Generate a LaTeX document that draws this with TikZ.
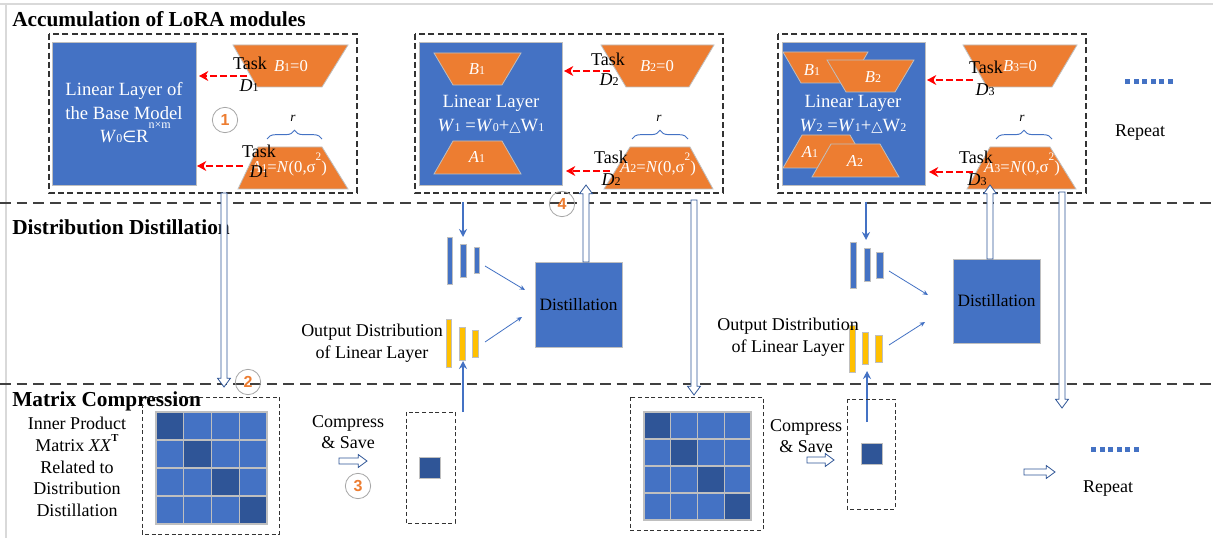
\documentclass[tikz,border=0pt]{standalone}
\usepackage{fontspec}
\setmainfont{Liberation Serif}
\newfontfamily\symfont{DejaVu Sans}
\newfontfamily\numfont{Liberation Sans}
\usetikzlibrary{calc,arrows.meta,decorations.pathreplacing}

\definecolor{lblue}{HTML}{4472C4}
\definecolor{dblue}{HTML}{2F5597}
\definecolor{orng}{HTML}{ED7D31}
\definecolor{yel}{HTML}{FFC000}
\definecolor{edgegray}{HTML}{BFBFBF}
\definecolor{sepgray}{HTML}{404040}
\definecolor{framegray}{HTML}{D9D9D9}
\definecolor{circgray}{HTML}{A6A6A6}

% small index digits set on the baseline, and raised exponents
\newcommand\sub[1]{{\fontsize{9}{9}\selectfont #1}}
\newcommand\sqr[1]{\smash{\raisebox{0.72em}{\fontsize{8.5}{8.5}\selectfont #1}}}

% outlined block arrow between two named coordinates
\newcommand\blockarrow[2]{%
  \coordinate (ba-h) at ($(#2)!6.5pt!(#1)$);
  \draw[hollow] ($(#1)!2.3pt!90:(#2)$) -- ($(ba-h)!2.3pt!90:(#2)$)
    -- ($(ba-h)!4.8pt!90:(#2)$) -- (#2) -- ($(ba-h)!4.8pt!-90:(#2)$)
    -- ($(ba-h)!2.3pt!-90:(#2)$) -- ($(#1)!2.3pt!-90:(#2)$) -- cycle;}

\begin{document}
\begin{tikzpicture}[x=0.75pt,y=-0.75pt,
  sepline/.style={draw=sepgray, line width=1.5pt, dash pattern=on 8pt off 4.5pt},
  panel/.style={draw=black!80, line width=0.8pt, dash pattern=on 4.5pt off 2.5pt},
  finebox/.style={draw=black!80, line width=0.7pt, dash pattern=on 3pt off 2pt},
  bluebox/.style={fill=lblue, draw=edgegray, line width=0.6pt},
  trap/.style={fill=orng, draw=edgegray, line width=0.6pt},
  bar/.style={draw=edgegray, line width=0.5pt},
  title/.style={font=\bfseries\fontsize{16}{18}\selectfont, inner sep=0pt},
  wtext/.style={text=white, font=\fontsize{14}{17.6}\selectfont, align=center, inner sep=0pt},
  wsmall/.style={text=white, font=\fontsize{12.5}{14}\selectfont, inner sep=0pt},
  ltext/.style={font=\fontsize{13.5}{16.3}\selectfont, align=center, inner sep=0pt},
  rtext/.style={font=\itshape\fontsize{10}{10}\selectfont, inner sep=0pt},
  redarrow/.style={draw=red, line width=2pt, dash pattern=on 5pt off 2.5pt, -{Stealth[length=7pt,width=7.5pt]}},
  bluearrow/.style={draw=lblue, line width=1.5pt, -{Stealth[length=6pt,width=6pt]}},
  thinarrow/.style={draw=lblue, line width=0.6pt, -{Stealth[length=4pt,width=3.5pt]}},
  hollow/.style={draw=dblue, fill=white, line width=0.6pt, line join=miter},
  bracket/.style={draw=lblue, line width=0.7pt, decorate, decoration={brace, amplitude=6.5pt}},
  numcirc/.style={circle, draw=circgray, line width=0.6pt, minimum size=19pt, inner sep=0pt,
    text=orng, font=\numfont\bfseries\fontsize{12}{12}\selectfont},
  dots/.style={fill=lblue}]

\useasboundingbox (0,0) rectangle (1213,538);
\fill[white] (0,0) rectangle (1213,538);

% outer frame and section separators
\draw[framegray, line width=0.8pt] (0,4) -- (1213,4);
\draw[framegray, line width=0.8pt] (6,4) -- (6,538);
\draw[sepline] (0,203.5) -- (1213,203.5);
\draw[sepline] (0,383.5) -- (1213,383.5);

\node[title, anchor=base west] (tacc) at (12,27) {Accumulation of LoRA modules};
\node[title, anchor=base west] (tdist) at (12,235) {Distribution Distillation};
\node[title, anchor=base west] (tmat) at (12,406) {Matrix Compression};

% ---------------- first LoRA stage ----------------
\draw[panel] (49,34) rectangle (357,193);
\draw[bluebox] (52,42) rectangle (196,185);
\node[wtext] (p1lin) at (124,113) {Linear Layer of\\the Base Model\\\textit{W}\sub{0}{\symfont\fontsize{12}{12}\selectfont ∈}R\rlap{\smash{\raisebox{11pt}{\fontsize{9}{9}\selectfont n×m}}}};
\draw[trap] (233,45) -- (348,45) -- (322,87) -- (257,87) -- cycle;
\draw[trap] (258,147) -- (322,147) -- (348,189) -- (238,189) -- cycle;
\node[wsmall] (p1b) at (291,66) {\textit{B}\sub{1}=0};
\node[wsmall] (p1a) at (289,168) {\textit{A}\sub{1}=\textit{N}(0,σ\sqr{2})};
\draw[bracket] (267,139) -- (322,139);
\node[rtext] (p1r) at (293,118) {r};
\coordinate (r1a) at (247,76); \coordinate (r1b) at (199,76);
\coordinate (r2a) at (243,166); \coordinate (r2b) at (197,166);
\draw[redarrow] (r1a) -- (r1b);
\draw[redarrow] (r2a) -- (r2b);
\node[ltext] (p1t1) at (250,63) {Task};
\node[ltext] (p1d1) at (249,86) {\textit{D}\sub{1}};
\node[ltext] (p1t2) at (259,151) {Task};
\node[ltext] (p1d2) at (259,172) {\textit{D}\sub{1}};
\node[numcirc] (c1) at (225,120) {1};

% ---------------- second LoRA stage ----------------
\draw[panel] (415,34) rectangle (723,193);
\draw[bluebox] (419,42) rectangle (562,185);
\draw[trap] (434,53) -- (521,53) -- (502,85) -- (453,85) -- cycle;
\draw[trap] (453,141) -- (502,141) -- (521,174) -- (434,174) -- cycle;
\node[wsmall] (p2bi) at (477,69) {\textit{B}\sub{1}};
\node[wsmall] (p2ai) at (477,157) {\textit{A}\sub{1}};
\node[wtext] (p2lin) at (491,114) {Linear Layer\\\textit{W}\sub{1} =\textit{W}\sub{0}+{\symfont\fontsize{11}{11}\selectfont △}W\sub{1}};
\draw[trap] (601,45) -- (714,45) -- (689,87) -- (626,87) -- cycle;
\draw[trap] (630,147) -- (690,147) -- (713,189) -- (604,189) -- cycle;
\node[wsmall] (p2b) at (657,66) {\textit{B}\sub{2}=0};
\node[wsmall] (p2a) at (658,168) {\textit{A}\sub{2}=\textit{N}(0,σ\sqr{2})};
\draw[bracket] (632,139) -- (688,139);
\node[rtext] (p2r) at (659,118) {r};
\coordinate (r3a) at (610,71); \coordinate (r3b) at (564,71);
\coordinate (r4a) at (610,171); \coordinate (r4b) at (566,171);
\draw[redarrow] (r3a) -- (r3b);
\draw[redarrow] (r4a) -- (r4b);
\node[ltext] (p2t1) at (608,59) {Task};
\node[ltext] (p2d1) at (609,80) {\textit{D}\sub{2}};
\node[ltext] (p2t2) at (611,157) {Task};
\node[ltext] (p2d2) at (611,180) {\textit{D}\sub{2}};

% ---------------- third LoRA stage ----------------
\draw[panel] (778,34) rectangle (1086,193);
\draw[bluebox] (782,42) rectangle (925,185);
\draw[trap] (783,52) -- (868,52) -- (850,83) -- (801,83) -- cycle;
\draw[trap] (827,60) -- (914,60) -- (895,92) -- (846,92) -- cycle;
\node[wsmall] (p3b1) at (812,70) {\textit{B}\sub{1}};
\node[wsmall] (p3b2) at (873,77) {\textit{B}\sub{2}};
\node[wtext] (p3lin) at (853,114) {Linear Layer\\\textit{W}\sub{2} =\textit{W}\sub{1}+{\symfont\fontsize{11}{11}\selectfont △}W\sub{2}};
\draw[trap] (802,135) -- (850,135) -- (869,168) -- (783,168) -- cycle;
\draw[trap] (831,144) -- (880,144) -- (899,177) -- (812,177) -- cycle;
\node[wsmall] (p3a1) at (810,152) {\textit{A}\sub{1}};
\node[wsmall] (p3a2) at (855,161) {\textit{A}\sub{2}};
\draw[trap] (963,45) -- (1077,45) -- (1052,87) -- (987,87) -- cycle;
\draw[trap] (990,147) -- (1050,147) -- (1076,189) -- (967,189) -- cycle;
\node[wsmall] (p3b) at (1020,66) {\textit{B}\sub{3}=0};
\node[wsmall] (p3a) at (1022,168) {\textit{A}\sub{3}=\textit{N}(0,σ\sqr{2})};
\draw[bracket] (996,139) -- (1052,139);
\node[rtext] (p3r) at (1022,118) {r};
\coordinate (r5a) at (973,80); \coordinate (r5b) at (927,80);
\coordinate (r6a) at (973,172); \coordinate (r6b) at (929,172);
\draw[redarrow] (r5a) -- (r5b);
\draw[redarrow] (r6a) -- (r6b);
\node[ltext] (p3t1) at (986,67) {Task};
\node[ltext] (p3d1) at (985,90) {\textit{D}\sub{3}};
\node[ltext] (p3t2) at (976,157) {Task};
\node[ltext] (p3d2) at (977,180) {\textit{D}\sub{3}};

% continuation marks
\foreach \k in {0,...,5} \fill[dots] (1125+\k*8.6,79.5) rectangle ++(5,5);
\node[ltext] (rep1) at (1140,133) {Repeat};

% ---------------- distillation, first round ----------------
\draw[bar, fill=lblue] (447,237) rectangle (452,284);
\draw[bar, fill=lblue] (460,244) rectangle (466,277);
\draw[bar, fill=lblue] (474,247) rectangle (479,273);
\draw[bar, fill=yel] (446,319) rectangle (451,367);
\draw[bar, fill=yel] (459,327) rectangle (465,360);
\draw[bar, fill=yel] (472,330) rectangle (478,357);
\node[bluebox, minimum width=65.25pt, minimum height=63.75pt, inner sep=0pt,
      font=\fontsize{13}{15}\selectfont] (dist1) at (578.5,304.5) {Distillation};
\coordinate (g1a) at (485,266); \coordinate (g1b) at (525,290);
\coordinate (g1c) at (485,342); \coordinate (g1d) at (522,317);
\draw[thinarrow] (g1a) -- (g1b);
\draw[thinarrow] (g1c) -- (g1d);
\node[ltext] (od1) at (372,343) {Output Distribution\\of Linear Layer};
\coordinate (ba1s) at (463,202); \coordinate (ba1e) at (463,237);
\draw[bluearrow] (ba1s) -- (ba1e);
\coordinate (bu1s) at (463,412); \coordinate (bu1e) at (463,361);
\draw[bluearrow] (bu1s) -- (bu1e);

% ---------------- distillation, second round ----------------
\draw[bar, fill=lblue] (850,242) rectangle (856,288);
\draw[bar, fill=lblue] (864,248) rectangle (870,281);
\draw[bar, fill=lblue] (876,252) rectangle (883,278);
\draw[bar, fill=yel] (849,325) rectangle (855,372);
\draw[bar, fill=yel] (862,332) rectangle (868,364);
\draw[bar, fill=yel] (875,335) rectangle (882,362);
\node[bluebox, minimum width=65.25pt, minimum height=63pt, inner sep=0pt,
      font=\fontsize{13}{15}\selectfont] (dist2) at (996.5,301) {Distillation};
\coordinate (g2a) at (889,271); \coordinate (g2b) at (928,295);
\coordinate (g2c) at (889,345); \coordinate (g2d) at (925,322);
\draw[thinarrow] (g2a) -- (g2b);
\draw[thinarrow] (g2c) -- (g2d);
\node[ltext] (od2) at (788,337) {Output Distribution\\of Linear Layer};
\coordinate (ba2s) at (866,202); \coordinate (ba2e) at (866,240);
\draw[bluearrow] (ba2s) -- (ba2e);
\coordinate (bu2s) at (867,422); \coordinate (bu2e) at (867,371);
\draw[bluearrow] (bu2s) -- (bu2e);

% ---------------- matrix compression ----------------
\draw[finebox] (142,397) rectangle (279,534);
\foreach \i in {0,...,3}{\foreach \j in {0,...,3}{
  \ifnum\i=\j \def\cellc{dblue}\else\def\cellc{lblue}\fi
  \draw[draw=edgegray, line width=0.9pt, fill=\cellc] (156+\i*27.75,412+\j*28) rectangle ++(27.75,28);}}
\node[ltext, font=\fontsize{13.5}{16.3}\selectfont] (ipm) at (77,467)
  {Inner Product\\Matrix \textit{XX}\smash{\raisebox{0.55em}{\fontsize{8}{8}\selectfont\bfseries T}}\\Related to\\Distribution\\Distillation};
\node[ltext] (cs1) at (348,432) {Compress\\\& Save};
\coordinate (ca1s) at (339,461); \coordinate (ca1e) at (367,461);
\node[numcirc] (c3) at (358,486) {3};
\draw[finebox] (406,412) rectangle (455,523);
\draw[bluebox, fill=dblue] (419,457) rectangle (440,478);

\draw[finebox] (630,397) rectangle (763,530);
\foreach \i in {0,...,3}{\foreach \j in {0,...,3}{
  \ifnum\i=\j \def\cellc{dblue}\else\def\cellc{lblue}\fi
  \draw[draw=edgegray, line width=0.9pt, fill=\cellc] (644+\i*26.75,412+\j*27) rectangle ++(26.75,27);}}
\node[ltext] (cs2) at (806,436) {Compress\\\& Save};
\coordinate (ca2s) at (807,460); \coordinate (ca2e) at (834,460);
\draw[finebox] (847,399) rectangle (895,509);
\draw[bluebox, fill=dblue] (861,443) rectangle (882,464);

\coordinate (ca3s) at (1024,472); \coordinate (ca3e) at (1055,472);
\foreach \k in {0,...,5} \fill[dots] (1091+\k*8.5,446.5) rectangle ++(5,5);
\node[ltext] (rep2) at (1108,489) {Repeat};

% ---------------- hollow transfer arrows ----------------
\coordinate (h1s) at (224,193); \coordinate (h1e) at (224,387);
\blockarrow{h1s}{h1e}
\coordinate (h2s) at (586,262); \coordinate (h2e) at (586,185);
\blockarrow{h2s}{h2e}
\coordinate (h3s) at (694,200); \coordinate (h3e) at (694,395);
\blockarrow{h3s}{h3e}
\coordinate (h4s) at (990,259); \coordinate (h4e) at (990,185);
\blockarrow{h4s}{h4e}
\coordinate (h5s) at (1062,192); \coordinate (h5e) at (1062,408);
\blockarrow{h5s}{h5e}
\blockarrow{ca1s}{ca1e}
\blockarrow{ca2s}{ca2e}
\blockarrow{ca3s}{ca3e}

\node[numcirc] (c2) at (248,382) {2};
\node[numcirc] (c4) at (562,204) {4};

\end{tikzpicture}
\end{document}
